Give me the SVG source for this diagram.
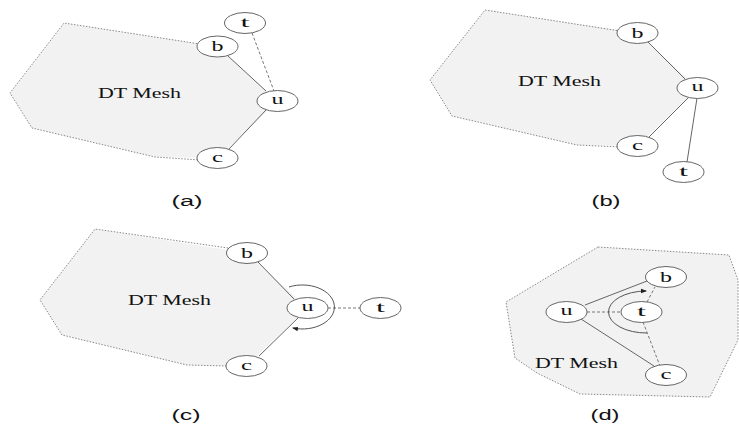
<svg xmlns="http://www.w3.org/2000/svg" width="739" height="426" viewBox="0 0 739 426">
<style>
.mesh{fill:#f2f2f2;stroke:none}
.meshb{fill:none;stroke:#8a8a8a;stroke-width:1;stroke-dasharray:1.5 1.5}
.nd{fill:#fff;stroke:#666;stroke-width:1}
.lt{font-family:"Liberation Serif","Times New Roman",serif;font-size:15px;fill:#111;text-anchor:middle}
.mt{font-family:"Liberation Serif","Times New Roman",serif;font-size:14px;fill:#111}
.cap{font-family:"Liberation Sans",Arial,sans-serif;font-size:14px;fill:#111;text-anchor:middle}
.e{fill:none;stroke:#666;stroke-width:1}
.d{fill:none;stroke:#777;stroke-width:1;stroke-dasharray:3 2}
.arc{fill:none;stroke:#555;stroke-width:1}
</style>
<defs>
<marker id="ah" markerWidth="6" markerHeight="6" refX="5" refY="3" orient="auto" markerUnits="userSpaceOnUse">
<path d="M0,0.8 L6,3 L0,5.2 Z" fill="#222"/>
</marker>
</defs>

<!-- meshes -->
<g id="meshes">
<polygon class="mesh" points="64,23 217.5,46.5 277.5,101 217.5,158 155,157 32,128 10,93"/>
<polyline class="meshb" points="200,44 64,23 10,93 32,128 155,157 200,160"/>
<polygon class="mesh" points="485,10 637.5,33 697.5,88 637.5,146 577,145 452,116 430,80"/>
<polyline class="meshb" points="620,31 485,10 430,80 452,116 577,145 620,147"/>
<polygon class="mesh" points="95,229 247,253 307.5,308 246.5,366 187,365 62,335 40,300"/>
<polyline class="meshb" points="228,248 95,229 40,300 62,335 187,365 228,366"/>
<polygon class="mesh" points="598,247 729,255 738,280 738,340 710,397 580,394 537,373 515,358 506,302"/>
<polygon class="meshb" points="598,247 729,255 738,280 738,340 710,397 580,394 537,373 515,358 506,302"/>
<text class="mt" x="98" y="98" textLength="83" lengthAdjust="spacingAndGlyphs">DT Mesh</text>
<text class="mt" x="518" y="86" textLength="83" lengthAdjust="spacingAndGlyphs">DT Mesh</text>
<text class="mt" x="128" y="305" textLength="83" lengthAdjust="spacingAndGlyphs">DT Mesh</text>
<text class="mt" x="535" y="368" textLength="83" lengthAdjust="spacingAndGlyphs">DT Mesh</text>
</g>

<!-- connectors -->
<g id="connectors">
<!-- a -->
<line class="e" x1="228" y1="56" x2="266" y2="91"/>
<line class="e" x1="266" y1="110" x2="229" y2="149"/>
<line class="d" x1="252" y1="33" x2="274" y2="91"/>
<!-- b -->
<line class="e" x1="648" y1="42" x2="685" y2="79"/>
<line class="e" x1="689" y1="97" x2="649" y2="137"/>
<line class="e" x1="697" y1="98" x2="687" y2="162"/>
<!-- c -->
<line class="e" x1="258" y1="262" x2="294" y2="299"/>
<line class="e" x1="298" y1="318" x2="259" y2="356"/>
<line class="d" x1="328" y1="308" x2="360" y2="308"/>
<path class="arc" d="M289,287 A32,22 0 1 1 293,328" marker-end="url(#ah)"/>
<!-- d -->
<line class="e" x1="585" y1="305" x2="647" y2="281"/>
<line class="e" x1="581" y1="319" x2="654" y2="366"/>
<line class="d" x1="587" y1="312" x2="621" y2="312"/>
<line class="d" x1="643" y1="322" x2="660" y2="366"/>
<line class="d" x1="647" y1="302" x2="655" y2="287"/>
<path class="arc" d="M647,333 A38,21 0 1 1 646,291" marker-end="url(#ah)"/>
</g>

<!-- panel a nodes -->
<g id="a-t"><ellipse class="nd" cx="245" cy="23" rx="20.5" ry="10.5"/><text class="lt" x="245" y="27" textLength="9" lengthAdjust="spacingAndGlyphs">t</text></g>
<g id="a-b"><ellipse class="nd" cx="217.5" cy="46.5" rx="20.5" ry="10.5"/><text class="lt" x="217.5" y="51" textLength="12" lengthAdjust="spacingAndGlyphs">b</text></g>
<g id="a-u"><ellipse class="nd" cx="277.5" cy="101" rx="20.5" ry="10.5"/><text class="lt" x="277.5" y="104" textLength="12" lengthAdjust="spacingAndGlyphs">u</text></g>
<g id="a-c"><ellipse class="nd" cx="217.5" cy="158" rx="20.5" ry="10.5"/><text class="lt" x="217.5" y="162" textLength="11" lengthAdjust="spacingAndGlyphs">c</text></g>

<!-- panel b nodes -->
<g id="b-b"><ellipse class="nd" cx="637.5" cy="33" rx="20.5" ry="10.5"/><text class="lt" x="637.5" y="37.5" textLength="12" lengthAdjust="spacingAndGlyphs">b</text></g>
<g id="b-u"><ellipse class="nd" cx="697.5" cy="88" rx="20.5" ry="10.5"/><text class="lt" x="697.5" y="91" textLength="12" lengthAdjust="spacingAndGlyphs">u</text></g>
<g id="b-c"><ellipse class="nd" cx="637.5" cy="146" rx="20.5" ry="10.5"/><text class="lt" x="637.5" y="150" textLength="11" lengthAdjust="spacingAndGlyphs">c</text></g>
<g id="b-t"><ellipse class="nd" cx="683.5" cy="172" rx="20.5" ry="10.5"/><text class="lt" x="683.5" y="176" textLength="9" lengthAdjust="spacingAndGlyphs">t</text></g>

<!-- panel c nodes -->
<g id="c-b"><ellipse class="nd" cx="247" cy="253" rx="20.5" ry="10.5"/><text class="lt" x="247" y="257.5" textLength="12" lengthAdjust="spacingAndGlyphs">b</text></g>
<g id="c-u"><ellipse class="nd" cx="307.5" cy="308" rx="20.5" ry="10.5"/><text class="lt" x="307.5" y="311" textLength="12" lengthAdjust="spacingAndGlyphs">u</text></g>
<g id="c-t"><ellipse class="nd" cx="380.5" cy="308" rx="20.5" ry="10.5"/><text class="lt" x="380.5" y="312" textLength="9" lengthAdjust="spacingAndGlyphs">t</text></g>
<g id="c-c"><ellipse class="nd" cx="246.5" cy="366" rx="20.5" ry="10.5"/><text class="lt" x="246.5" y="370" textLength="11" lengthAdjust="spacingAndGlyphs">c</text></g>

<!-- panel d nodes -->
<g id="d-b"><ellipse class="nd" cx="666" cy="277" rx="20.5" ry="10.5"/><text class="lt" x="666" y="281.5" textLength="12" lengthAdjust="spacingAndGlyphs">b</text></g>
<g id="d-u"><ellipse class="nd" cx="566.5" cy="312" rx="20.5" ry="10.5"/><text class="lt" x="566.5" y="315" textLength="12" lengthAdjust="spacingAndGlyphs">u</text></g>
<g id="d-t"><ellipse class="nd" cx="641.5" cy="312" rx="20.5" ry="10.5"/><text class="lt" x="641.5" y="316" textLength="9" lengthAdjust="spacingAndGlyphs">t</text></g>
<g id="d-c"><ellipse class="nd" cx="666" cy="375" rx="20.5" ry="10.5"/><text class="lt" x="666" y="379" textLength="11" lengthAdjust="spacingAndGlyphs">c</text></g>

<!-- captions -->
<g id="captions">
<text class="cap" x="187" y="206" textLength="31" lengthAdjust="spacingAndGlyphs">(a)</text>
<text class="cap" x="606" y="206" textLength="29" lengthAdjust="spacingAndGlyphs">(b)</text>
<text class="cap" x="186" y="420" textLength="29" lengthAdjust="spacingAndGlyphs">(c)</text>
<text class="cap" x="605" y="420" textLength="29" lengthAdjust="spacingAndGlyphs">(d)</text>
</g>
</svg>
